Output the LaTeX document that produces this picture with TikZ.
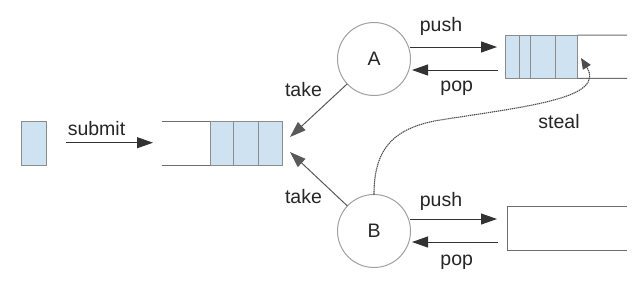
\documentclass[tikz,border=0pt]{standalone}
\usepackage{fontspec}
\setmainfont{Liberation Sans}
\usetikzlibrary{arrows.meta,calc}
\definecolor{cellfill}{RGB}{207,226,242}
\definecolor{cellline}{RGB}{140,140,140}
\definecolor{qline}{RGB}{110,110,110}
\definecolor{circline}{RGB}{160,160,160}
\definecolor{arrline}{RGB}{50,50,50}
\begin{document}
\begin{tikzpicture}[x=1pt,y=-1pt,
  every node/.style={inner sep=0pt,outer sep=0pt,font=\fontsize{19.5}{22}\selectfont,text=black!85},
  cell/.style={draw=cellline,fill=cellfill,line width=0.9pt,minimum height=44pt},
  worker/.style={circle,draw=circline,line width=1pt,minimum size=73pt,fill=white},
  qedge/.style={draw=qline,line width=1pt},
  flow/.style={draw=arrline,line width=1pt,-{Triangle[length=16pt,width=11pt]}},
  takearr/.style={draw=black!65,line width=1pt,-{Triangle[length=16pt,width=11pt]}},
  stealarr/.style={draw=black!70,line width=1.1pt,dash pattern=on 1.3pt off 0.7pt,-{Triangle[length=11pt,width=9pt]}},
  lbl/.style={anchor=base}
]
\useasboundingbox (0,0) rectangle (642,282);
\fill[white] (0,0) rectangle (642,282);

% single task
\node[cell,minimum width=25pt] (job) at (34.2,143.7) {};

% main queue
\node[cell,minimum width=23.3pt] (m1) at (221.7,143.7) {};
\node[cell,minimum width=25pt] (m2) at (245.8,143.7) {};
\node[cell,minimum width=24.4pt] (m3) at (270.5,143.7) {};
\draw[qedge] (m1.north west) -- (162,121.7);
\draw[qedge] (m1.south west) -- (162,165.7);

% worker A and its deque
\node[worker] (A) at (374,59) {A};
\node[cell,minimum width=13.3pt,minimum height=43.3pt] (a1) at (512.4,56.7) {};
\node[cell,minimum width=11pt,minimum height=43.3pt] (a2) at (524.5,56.7) {};
\node[cell,minimum width=25pt,minimum height=43.3pt] (a3) at (542.5,56.7) {};
\node[cell,minimum width=22.7pt,minimum height=43.3pt] (a4) at (566.3,56.7) {};
\draw[qedge] (a4.north east) -- (627,35);
\draw[qedge] (a4.south east) -- (627,78.3);

% worker B and its deque
\node[worker] (B) at (374,231) {B};
\draw[qedge] (627,206.7) -- (507,206.7) -- (507,250) -- (627,250);

% submit
\coordinate (subs) at (66,142.7);
\coordinate (sube) at (153,142.7);
\draw[flow] (subs) -- (sube);
\node[lbl] (tsubmit) at (96.5,135) {submit};

% push / pop A
\coordinate (apushs) at ($(A.center)+(36,-12)$);
\coordinate (apush) at (497,47);
\coordinate (apops) at (498,70);
\coordinate (apop) at ($(A.center)+(38,11)$);
\draw[flow] (apushs) -- (apush);
\draw[flow] (apops) -- (apop);
\node[lbl] (tpushA) at (441,31.7) {push};
\node[lbl] (tpopA) at (456.7,91.7) {pop};

% push / pop B
\coordinate (bpushs) at ($(B.center)+(36,-12)$);
\coordinate (bpush) at (497,219);
\coordinate (bpops) at (498,242);
\coordinate (bpop) at ($(B.center)+(38,11)$);
\draw[flow] (bpushs) -- (bpush);
\draw[flow] (bpops) -- (bpop);
\node[lbl] (tpushB) at (441,206.7) {push};
\node[lbl] (tpopB) at (456.7,265) {pop};

% take
\coordinate (tA) at (290,137);
\coordinate (tB) at (290,152);
\draw[takearr] (A) -- (tA);
\draw[takearr] (B) -- (tB);
\node[lbl] (ttakeA) at (303.5,96.7) {take};
\node[lbl] (ttakeB) at (303.5,203.3) {take};

% steal
\coordinate (stip) at (581,58);
\draw[stealarr] (B.north) .. controls (374,150) and (392,128) .. (440,120)
   .. controls (530,106) and (606,98) .. (stip);
\node[lbl] (tsteal) at (559,128) {steal};
\end{tikzpicture}
\end{document}
